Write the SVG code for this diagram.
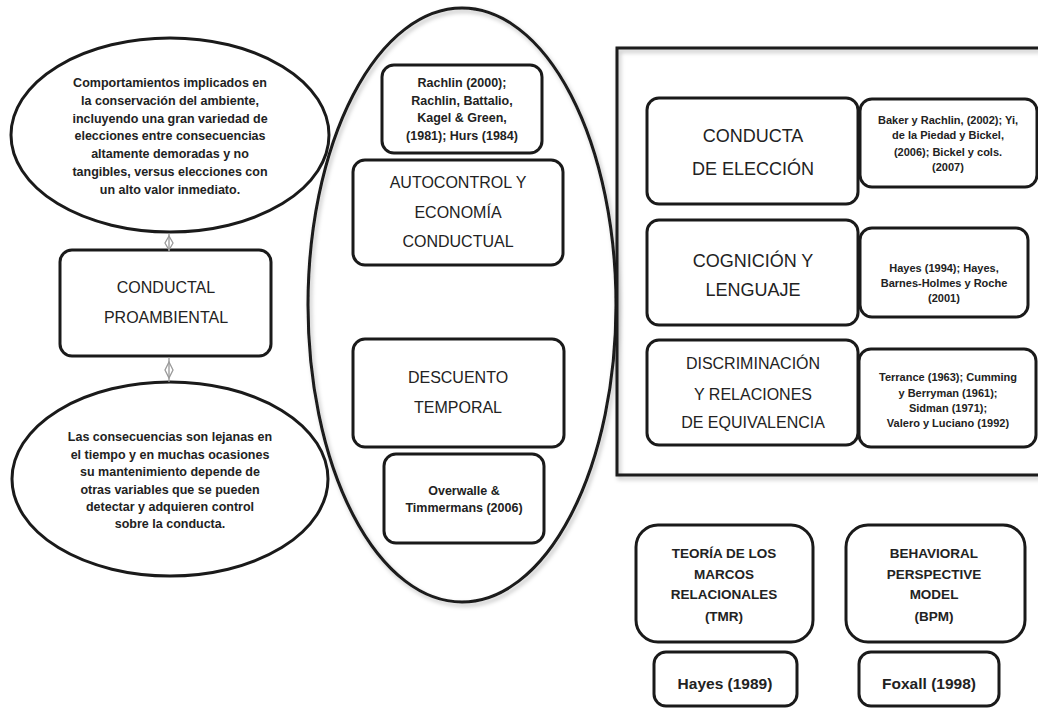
<svg xmlns="http://www.w3.org/2000/svg" width="1038" height="710" viewBox="0 0 1038 710">
<defs>
<filter id="sh" x="-10%" y="-10%" width="130%" height="130%">
<feDropShadow dx="2" dy="3" stdDeviation="2" flood-color="#000" flood-opacity="0.25"/>
</filter>
<style>
.box{fill:#fff;stroke:#1a1a1a;stroke-width:3}
.ell{fill:none;stroke:#1a1a1a;stroke-width:3}
.t{font-family:"Liberation Sans",Arial,sans-serif;fill:#222;text-anchor:middle}
.b{font-family:"Liberation Sans",Arial,sans-serif;fill:#222;text-anchor:middle;font-weight:bold}
.con{fill:none;stroke:#9a9a9a;stroke-width:1.3}
</style>
</defs>
<rect width="1038" height="710" fill="#fff"/>

<g id="big-ellipse">
<ellipse class="ell" cx="462" cy="305" rx="154" ry="297" filter="url(#sh)"/>
</g>

<g id="panel">
<rect x="617" y="48" width="440" height="427" fill="none" stroke="#1a1a1a" stroke-width="3" filter="url(#sh)"/>
</g>

<g id="ell-top">
<ellipse class="ell" cx="170" cy="135" rx="159" ry="97"/>
<g class="b" font-size="12.5">
<text x="170" y="87">Comportamientos  implicados en</text>
<text x="170" y="105">la conservación del ambiente,</text>
<text x="170" y="123">incluyendo una gran variedad de</text>
<text x="170" y="140">elecciones entre consecuencias</text>
<text x="170" y="158">altamente demoradas y no</text>
<text x="170" y="176">tangibles, versus elecciones con</text>
<text x="170" y="194">un alto valor inmediato.</text>
</g>
</g>

<g id="conductal">
<rect class="box" x="60" y="250" width="211" height="106" rx="12"/>
<text class="t" x="166" y="293" font-size="16">CONDUCTAL</text>
<text class="t" x="166" y="323" font-size="16">PROAMBIENTAL</text>
</g>

<g id="ell-bottom">
<ellipse class="ell" cx="170" cy="479" rx="158" ry="97"/>
<g class="b" font-size="12.5">
<text x="170" y="441">Las consecuencias  son lejanas en</text>
<text x="170" y="459">el tiempo y en muchas ocasiones</text>
<text x="170" y="476">su mantenimiento  depende  de</text>
<text x="170" y="494">otras variables que  se pueden</text>
<text x="170" y="511">detectar y adquieren  control</text>
<text x="170" y="528">sobre la conducta.</text>
</g>
</g>

<g id="rachlin">
<rect class="box" x="382" y="65" width="160" height="88" rx="12"/>
<g class="b" font-size="12.5">
<text x="462" y="87">Rachlin (2000);</text>
<text x="462" y="105">Rachlin, Battalio,</text>
<text x="462" y="122">Kagel &amp; Green,</text>
<text x="462" y="140">(1981); Hurs (1984)</text>
</g>
</g>

<g id="autocontrol">
<rect class="box" x="353" y="160" width="210" height="105" rx="12"/>
<g class="t" font-size="16">
<text x="458" y="188">AUTOCONTROL Y</text>
<text x="458" y="218">ECONOMÍA</text>
<text x="458" y="247">CONDUCTUAL</text>
</g>
</g>

<g id="descuento">
<rect class="box" x="353" y="339" width="211" height="108" rx="12"/>
<g class="t" font-size="16">
<text x="458" y="383">DESCUENTO</text>
<text x="458" y="413">TEMPORAL</text>
</g>
</g>

<g id="overwalle">
<rect class="box" x="384" y="454" width="160" height="89" rx="12"/>
<g class="b" font-size="12.5">
<text x="464" y="495">Overwalle &amp;</text>
<text x="464" y="512">Timmermans (2006)</text>
</g>
</g>

<g id="eleccion">
<rect class="box" x="647" y="98" width="211" height="106" rx="12"/>
<g class="t" font-size="18">
<text x="753" y="142">CONDUCTA</text>
<text x="753" y="175">DE ELECCIÓN</text>
</g>
</g>

<g id="baker">
<rect class="box" x="860" y="99" width="177" height="88" rx="12"/>
<g class="b" font-size="11">
<text x="948" y="124">Baker y Rachlin, (2002); Yi,</text>
<text x="948" y="139">de la Piedad y Bickel,</text>
<text x="948" y="156">(2006); Bickel y cols.</text>
<text x="948" y="171">(2007)</text>
</g>
</g>

<g id="cognicion">
<rect class="box" x="647" y="220" width="211" height="105" rx="12"/>
<g class="t" font-size="18">
<text x="753" y="267">COGNICIÓN Y</text>
<text x="753" y="296">LENGUAJE</text>
</g>
</g>

<g id="hayes1994">
<rect class="box" x="860" y="228" width="168" height="89" rx="12"/>
<g class="b" font-size="11">
<text x="944" y="272">Hayes (1994); Hayes,</text>
<text x="944" y="287">Barnes-Holmes y Roche</text>
<text x="944" y="302">(2001)</text>
</g>
</g>

<g id="discriminacion">
<rect class="box" x="647" y="340" width="211" height="105" rx="12"/>
<g class="t" font-size="16">
<text x="753" y="369">DISCRIMINACIÓN</text>
<text x="753" y="400">Y RELACIONES</text>
<text x="753" y="428">DE EQUIVALENCIA</text>
</g>
</g>

<g id="terrance">
<rect class="box" x="859" y="349" width="177" height="98" rx="12"/>
<g class="b" font-size="11">
<text x="948" y="381">Terrance (1963); Cumming</text>
<text x="948" y="397">y Berryman (1961);</text>
<text x="948" y="412">Sidman (1971);</text>
<text x="948" y="427">Valero y Luciano  (1992)</text>
</g>
</g>

<g id="tmr">
<rect class="box" x="636" y="525" width="177" height="117" rx="22"/>
<g class="b" font-size="13.5">
<text x="724" y="558">TEORÍA DE LOS</text>
<text x="724" y="579">MARCOS</text>
<text x="724" y="599">RELACIONALES</text>
<text x="724" y="621">(TMR)</text>
</g>
</g>

<g id="bpm">
<rect class="box" x="846" y="525" width="179" height="117" rx="22"/>
<g class="b" font-size="13.5">
<text x="934" y="558">BEHAVIORAL</text>
<text x="934" y="579">PERSPECTIVE</text>
<text x="934" y="599">MODEL</text>
<text x="934" y="621">(BPM)</text>
</g>
</g>

<g id="hayes1989">
<rect class="box" x="654" y="652" width="143" height="54" rx="12"/>
<text class="b" x="725" y="689" font-size="15.5">Hayes (1989)</text>
</g>

<g id="foxall">
<rect class="box" x="859" y="652" width="140" height="54" rx="12"/>
<text class="b" x="929" y="689" font-size="15.5">Foxall (1998)</text>
</g>

<g id="connectors">
<line class="con" x1="169" y1="233" x2="169" y2="251"/>
<polygon class="con" points="169,236 173,243 169,250 165,243"/>
<line class="con" x1="169" y1="357" x2="169" y2="382"/>
<polygon class="con" points="169,362 173,370 169,378 165,370"/>
</g>
</svg>
